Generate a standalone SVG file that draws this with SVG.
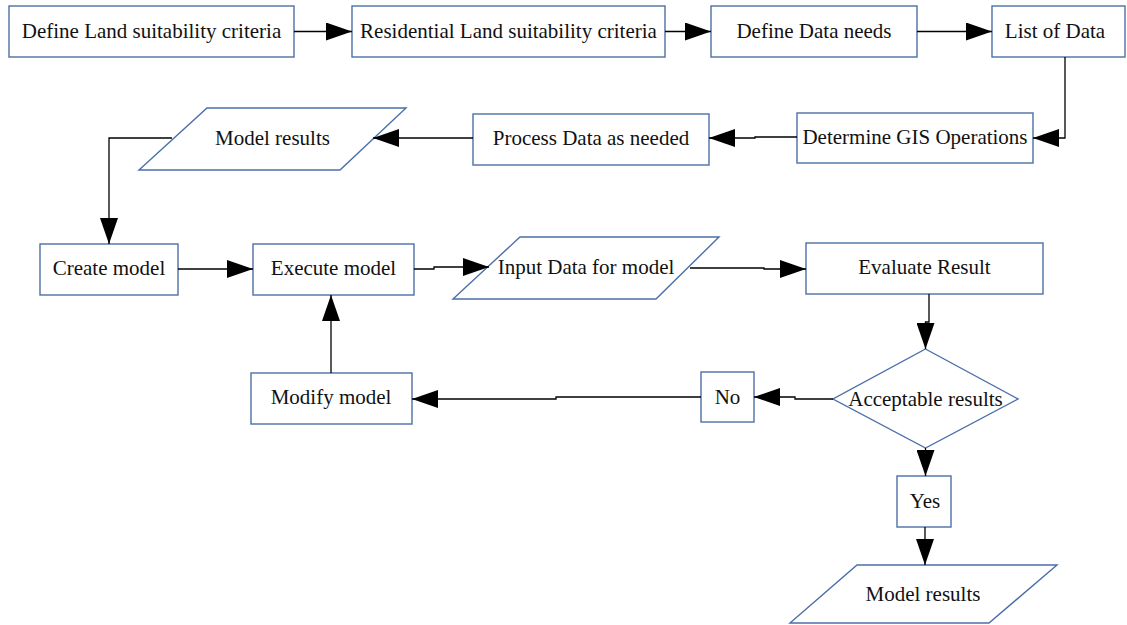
<svg xmlns="http://www.w3.org/2000/svg" width="1127" height="625" viewBox="0 0 1127 625">
<defs>
<marker id="ah" markerWidth="26" markerHeight="18" refX="26" refY="9" orient="auto" markerUnits="userSpaceOnUse"><path d="M0,0 L26,9 L0,18 z" fill="#000"/></marker>
<style>
.n{fill:#fff;stroke:#4a6fa8;stroke-width:1.4}
.t{font-family:"Liberation Serif","Times New Roman",serif;font-size:21px;fill:#111;text-anchor:middle;dominant-baseline:central}
.c{fill:none;stroke:#000;stroke-width:1.3;marker-end:url(#ah)}
</style>
</defs>
<rect width="1127" height="625" fill="#fff"/>
<g id="n1"><rect class="n" x="9" y="6" width="285" height="51"/><text class="t" x="151.5" y="31">Define Land suitability criteria</text></g>
<g id="n2"><rect class="n" x="352" y="6" width="313" height="51"/><text class="t" x="508.5" y="31">Residential Land suitability criteria</text></g>
<g id="n3"><rect class="n" x="711" y="6" width="206" height="51"/><text class="t" x="814" y="31">Define Data needs</text></g>
<g id="n4"><rect class="n" x="992" y="6" width="133" height="51"/><text class="t" x="1055" y="31">List of Data</text></g>
<g id="n5"><rect class="n" x="797" y="113" width="236" height="50"/><text class="t" x="915" y="137">Determine GIS Operations</text></g>
<g id="n6"><rect class="n" x="473" y="114" width="236" height="51"/><text class="t" x="591" y="138">Process Data as needed</text></g>
<g id="n7"><polygon class="n" points="207,108 406,108 340,170 139,170"/><text class="t" x="272.5" y="138">Model results</text></g>
<g id="n8"><rect class="n" x="40" y="244" width="138" height="51"/><text class="t" x="109" y="268">Create model</text></g>
<g id="n9"><rect class="n" x="253" y="244" width="161" height="51"/><text class="t" x="333.5" y="268">Execute model</text></g>
<g id="n10"><polygon class="n" points="520,237 719,237 656,299 453,299"/><text class="t" x="586" y="267">Input Data for model</text></g>
<g id="n11"><rect class="n" x="806" y="243" width="237" height="51"/><text class="t" x="924.5" y="267">Evaluate Result</text></g>
<g id="n12"><polygon class="n" points="925.5,349 1018,399 925.5,448 833,399"/><text class="t" x="925.5" y="399">Acceptable results</text></g>
<g id="n13"><rect class="n" x="701" y="372" width="53" height="50"/><text class="t" x="727.5" y="397">No</text></g>
<g id="n14"><rect class="n" x="251" y="373" width="161" height="51"/><text class="t" x="331" y="397">Modify model</text></g>
<g id="n15"><rect class="n" x="897" y="476" width="54" height="51"/><text class="t" x="925" y="501">Yes</text></g>
<g id="n16"><polygon class="n" points="857,565 1057,565 989,623 790,623"/><text class="t" x="923" y="594">Model results</text></g>
<g id="connectors">
<path class="c" d="M294,31.5 H352"/>
<path class="c" d="M665,31.5 H711"/>
<path class="c" d="M917,31.5 H992"/>
<path class="c" d="M1065,57 V138 H1033"/>
<path class="c" d="M797,137 H755 V138 H709"/>
<path class="c" d="M473,138 H373"/>
<path class="c" d="M172,138 H109 V244"/>
<path class="c" d="M178,269 H253"/>
<path class="c" d="M414,269 H434 V267 H489"/>
<path class="c" d="M690,268 H764 V269 H806"/>
<path class="c" d="M929,294 V322 H925.5 V349"/>
<path class="c" d="M833,399 H795 V397 H754"/>
<path class="c" d="M701,397 H556 V399 H412"/>
<path class="c" d="M331,373 V295"/>
<path class="c" d="M925.5,448 V476"/>
<path class="c" d="M925,527 V565"/>
</g>
</svg>
